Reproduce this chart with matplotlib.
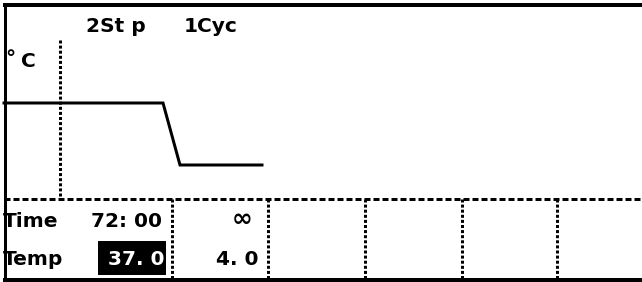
import matplotlib
matplotlib.use("Agg")
import matplotlib.pyplot as plt
from matplotlib.patches import Rectangle

# program data
step_count = "2St p"
cycle_count = "1Cyc"
row_labels = ["Time", "Temp"]
step_times = ["72: 00", "\u221e"]
step_temps = [37.0, 4.0]
temp_texts = ["37. 0", "4. 0"]

W, H = 642, 282
px = 72 / 100  # points per pixel

fig = plt.figure(figsize=(W / 100, H / 100), dpi=100)
ax = fig.add_axes([0, 0, 1, 1])
ax.set_xlim(0, W)
ax.set_ylim(H, 0)
ax.axis("off")

font = dict(family="DejaVu Sans", fontweight="bold", fontsize=14.5, color="black")

# outer frame (no right side)
ax.plot([4.5, 4.5], [5, 280], color="black", lw=3 * px, solid_capstyle="butt")
ax.plot([3, W], [5, 5], color="black", lw=4 * px, solid_capstyle="butt")
ax.plot([3, W], [280, 280], color="black", lw=4 * px, solid_capstyle="butt")

# grid lines of the table
ax.plot([4, W], [199, 199], color="black", lw=3 * px, ls=(0, (2, 1)))
dotted = dict(color="black", lw=3 * px, ls=(0, (1, 0.7)), solid_capstyle="butt")
ax.plot([60, 60], [40, 199], **dotted)
for xc in [172, 268, 365, 462, 557]:
    ax.plot([xc, xc], [199, 278], **dotted)

# header texts
ax.text(86, 32, step_count, ha="left", va="baseline", **font)
ax.text(184, 32, cycle_count, ha="left", va="baseline", **font)
ax.text(5, 64, "\u00b0", ha="left", va="baseline", **font)
ax.text(21, 67, "C", ha="left", va="baseline", **font)

# temperature profile drawn on its own temperature scale
prof = fig.add_axes([0, 0, 1, 1])
prof.set_xlim(0, W)
prof.set_ylim(-58.27, 91.82)
prof.axis("off")
prof_x = [4, 163, 180, 262]
prof_t = [step_temps[0], step_temps[0], step_temps[1], step_temps[1]]
prof.plot(prof_x, prof_t, color="black", lw=3 * px, solid_joinstyle="miter")

# table rows
ax.text(3, 227, row_labels[0], ha="left", va="baseline", **font)
ax.text(3, 265, row_labels[1], ha="left", va="baseline", **font)

ax.add_patch(Rectangle((98, 241), 68, 34, color="black", lw=0))
ax.text(162, 227, step_times[0], ha="right", va="baseline", **font)
ax.text(242, 219, step_times[1], ha="center", va="center", **{**font, "fontsize": 18})
ax.text(164, 265, temp_texts[0], ha="right", va="baseline", **{**font, "color": "white"})
ax.text(259, 265, temp_texts[1], ha="right", va="baseline", **font)

fig.savefig("out.png", dpi=100, facecolor="white")
